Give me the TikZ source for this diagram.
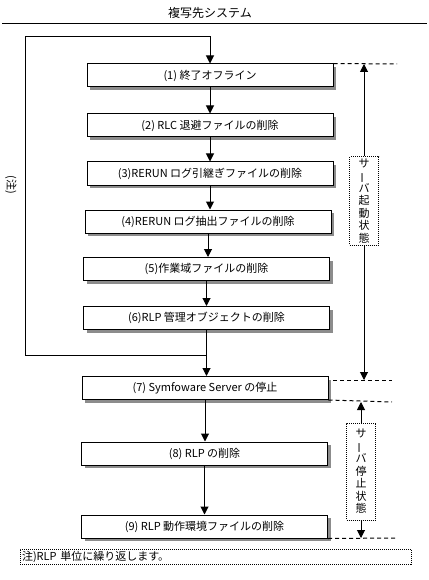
\documentclass[tikz,border=0pt]{standalone}
\usepackage{fontspec}
\usepackage{graphicx}
\setmainfont{Noto Sans CJK JP}
\usetikzlibrary{arrows.meta,shadows}

\newcommand{\vbar}{\rotatebox[origin=c]{90}{ー}}

\begin{document}
\begin{tikzpicture}[
x=1pt, y=-1pt,
font=\fontsize{11}{13}\selectfont,
stepnode/.style={rectangle, draw, line width=1pt, fill=white, minimum width=246pt, minimum height=23pt, inner sep=0pt,
  drop shadow={shadow xshift=3pt, shadow yshift=-3pt, fill=gray!90, opacity=1}},
statenode/.style={rectangle, draw, dash pattern=on 1pt off 1pt, line width=1pt, fill=white, inner sep=0pt,
  minimum width=29pt, align=center, font=\fontsize{11}{12.5}\selectfont},
notebox/.style={rectangle, draw, dash pattern=on 1pt off 1pt, line width=1pt, minimum height=15pt,
  inner xsep=2pt, inner ysep=0pt, text width=387pt, align=left},
arr/.style={line width=1pt, -{Triangle[width=8pt,length=8pt]}},
bound/.style={line width=1pt, dash pattern=on 4pt off 3pt},
]
\useasboundingbox (0,0) rectangle (428,580);

%Nodes
\node (title) at (210,13) {\fontsize{12}{14}\selectfont 複写先システム};
\coordinate (rulel) at (2,24);
\coordinate (ruler) at (427,24);
\draw[line width=1pt] (rulel) -- (ruler);

\node[stepnode] (s1) at (210,75.5) {(1) 終了オフライン};
\node[stepnode] (s2) at (210,125.5) {(2) RLC 退避ファイルの削除};
\node[stepnode] (s3) at (210,173.5) {(3)RERUN ログ引継ぎファイルの削除};
\node[stepnode] (s4) at (208,221.5) {(4)RERUN ログ抽出ファイルの削除};
\node[stepnode] (s5) at (206.5,269) {(5)作業域ファイルの削除};
\node[stepnode] (s6) at (206.5,318) {(6)RLP 管理オブジェクトの削除};
\node[stepnode] (s7) at (205,388) {(7) Symfoware Server の停止};
\node[stepnode] (s8) at (204.5,453.5) {(8) RLP の削除};
\node[stepnode] (s9) at (204.5,526.5) {(9) RLP 動作環境ファイルの削除};

%Flow
\draw[arr] (s1) -- (s1 |- s2.north);
\draw[arr] (s2) -- (s2 |- s3.north);
\draw[arr] (s3) -- (s3 |- s4.north);
\draw[arr] (s4) -- (s4 |- s5.north);
\draw[arr] (s5) -- (s5 |- s6.north);
\draw[arr] (s6) -- (s6 |- s7.north);
\draw[arr] (s7) -- (s7 |- s8.north);
\draw[arr] (s8) -- (s8 |- s9.north);

%Loop
\coordinate (loopfork) at (206.5,355);
\coordinate (loopbl) at (25,355);
\coordinate (looptl) at (25,37);
\draw[line width=1pt] (loopfork) -- (loopbl);
\draw[arr] (loopbl) -- (looptl) -| (s1);
\node[rotate=-90] (loopnote) at (11,185) {(注)};

%Server states
\coordinate (runtop) at (397,64);
\coordinate (runendl) at (333,380);
\coordinate (runend) at (392,380);
\coordinate (stoptop) at (392,402);
\coordinate (stopend) at (397,538);
\draw[bound] (s1.north east) -- (runtop);
\draw[bound] (runendl) -- (runend);
\draw[bound] (s7.south east) -- (stoptop);
\draw[bound] (s9.south east) -- (stopend);

\node[statenode, minimum height=88pt] (run) at (364,201) {サ\\\vbar\\バ\\起\\動\\状\\態};
\node[statenode, minimum height=97pt] (stop) at (361,471.5) {サ\\\vbar\\バ\\停\\止\\状\\態};
\draw[arr] (run) -- (run |- runtop);
\draw[arr] (run) -- (run |- runend);
\draw[arr] (stop) -- (stop |- stoptop);
\draw[arr] (stop) -- (stop |- stopend);

%Note
\node[notebox] (note) at (215.5,556.5) {注)RLP 単位に繰り返します。};
\end{tikzpicture}
\end{document}
